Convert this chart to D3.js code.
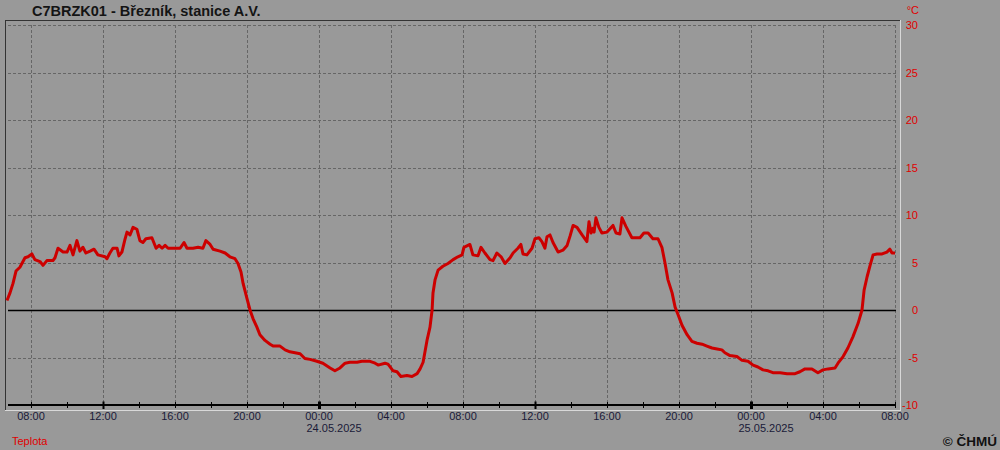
<!DOCTYPE html>
<html><head><meta charset="utf-8">
<script src="https://cdn.jsdelivr.net/npm/d3@7"></script>
<style>
html,body{margin:0;padding:0;background:#999999;}
svg{display:block;}
text{font-family:"Liberation Sans",Arial,sans-serif;}
</style></head>
<body>
<svg id="chart" width="1000" height="450"></svg>
<script>
const title = "C7BRZK01 - Březník, stanice A.V.";
const seriesName = "Teplota";
const unit = "°C";
const copyright = "© ČHMÚ";
const yTicks = [-10, -5, 0, 5, 10, 15, 20, 25, 30];
const dateLabels = ["24.05.2025", "25.05.2025"];

// time stamps (local time) and temperature values [°C]
const times = [
"2025-05-23T06:40","2025-05-23T06:50","2025-05-23T07:00","2025-05-23T07:10","2025-05-23T07:23","2025-05-23T07:40","2025-05-23T07:50","2025-05-23T08:03","2025-05-23T08:13","2025-05-23T08:30",
"2025-05-23T08:40","2025-05-23T08:53","2025-05-23T09:13","2025-05-23T09:20","2025-05-23T09:30","2025-05-23T09:47","2025-05-23T10:00","2025-05-23T10:10","2025-05-23T10:20","2025-05-23T10:33",
"2025-05-23T10:43","2025-05-23T10:53","2025-05-23T11:03","2025-05-23T11:17","2025-05-23T11:30","2025-05-23T11:43","2025-05-23T12:07","2025-05-23T12:13","2025-05-23T12:23","2025-05-23T12:33",
"2025-05-23T12:47","2025-05-23T12:53","2025-05-23T13:03","2025-05-23T13:13","2025-05-23T13:20","2025-05-23T13:30","2025-05-23T13:40","2025-05-23T13:53","2025-05-23T14:03","2025-05-23T14:13",
"2025-05-23T14:23","2025-05-23T14:43","2025-05-23T14:57","2025-05-23T15:07","2025-05-23T15:17","2025-05-23T15:27","2025-05-23T15:37","2025-05-23T15:53","2025-05-23T16:17","2025-05-23T16:30",
"2025-05-23T16:40","2025-05-23T17:00","2025-05-23T17:17","2025-05-23T17:33","2025-05-23T17:43","2025-05-23T17:57","2025-05-23T18:07","2025-05-23T18:30","2025-05-23T18:47","2025-05-23T19:03",
"2025-05-23T19:20","2025-05-23T19:30","2025-05-23T19:40","2025-05-23T19:47","2025-05-23T20:00","2025-05-23T20:10","2025-05-23T20:20","2025-05-23T20:33","2025-05-23T20:43","2025-05-23T21:00",
"2025-05-23T21:17","2025-05-23T21:27","2025-05-23T21:50","2025-05-23T22:07","2025-05-23T22:23","2025-05-23T22:40","2025-05-23T22:57","2025-05-23T23:13","2025-05-23T23:30","2025-05-23T23:53",
"2025-05-24T00:13","2025-05-24T00:37","2025-05-24T00:53","2025-05-24T01:10","2025-05-24T01:27","2025-05-24T01:43","2025-05-24T02:07","2025-05-24T02:23","2025-05-24T02:50","2025-05-24T03:07",
"2025-05-24T03:17","2025-05-24T03:40","2025-05-24T03:50","2025-05-24T04:07","2025-05-24T04:20","2025-05-24T04:33","2025-05-24T04:53","2025-05-24T05:10","2025-05-24T05:27","2025-05-24T05:37",
"2025-05-24T05:47","2025-05-24T06:00","2025-05-24T06:10","2025-05-24T06:17","2025-05-24T06:20","2025-05-24T06:27","2025-05-24T06:37","2025-05-24T06:53","2025-05-24T07:10","2025-05-24T07:27",
"2025-05-24T07:43","2025-05-24T07:57","2025-05-24T08:03","2025-05-24T08:23","2025-05-24T08:33","2025-05-24T08:50","2025-05-24T09:00","2025-05-24T09:13","2025-05-24T09:30","2025-05-24T09:40",
"2025-05-24T09:53","2025-05-24T10:07","2025-05-24T10:20","2025-05-24T10:37","2025-05-24T10:47","2025-05-24T11:03","2025-05-24T11:13","2025-05-24T11:20","2025-05-24T11:33","2025-05-24T11:50",
"2025-05-24T12:00","2025-05-24T12:13","2025-05-24T12:23","2025-05-24T12:33","2025-05-24T12:40","2025-05-24T12:50","2025-05-24T13:00","2025-05-24T13:17","2025-05-24T13:33","2025-05-24T13:47",
"2025-05-24T13:57","2025-05-24T14:07","2025-05-24T14:20","2025-05-24T14:37","2025-05-24T14:53","2025-05-24T15:00","2025-05-24T15:07","2025-05-24T15:13","2025-05-24T15:17","2025-05-24T15:23",
"2025-05-24T15:33","2025-05-24T15:43","2025-05-24T16:00","2025-05-24T16:20","2025-05-24T16:30","2025-05-24T16:43","2025-05-24T16:50","2025-05-24T17:03","2025-05-24T17:23","2025-05-24T17:50",
"2025-05-24T18:03","2025-05-24T18:17","2025-05-24T18:33","2025-05-24T18:50","2025-05-24T19:03","2025-05-24T19:13","2025-05-24T19:23","2025-05-24T19:37","2025-05-24T19:47","2025-05-24T19:57",
"2025-05-24T20:10","2025-05-24T20:27","2025-05-24T20:43","2025-05-24T21:00","2025-05-24T21:17","2025-05-24T21:33","2025-05-24T21:50","2025-05-24T22:07","2025-05-24T22:23","2025-05-24T22:33",
"2025-05-24T22:50","2025-05-24T23:13","2025-05-24T23:30","2025-05-24T23:50","2025-05-25T00:07","2025-05-25T00:23","2025-05-25T00:40","2025-05-25T00:57","2025-05-25T01:13","2025-05-25T01:37",
"2025-05-25T02:00","2025-05-25T02:27","2025-05-25T02:43","2025-05-25T03:00","2025-05-25T03:23","2025-05-25T03:43","2025-05-25T04:00","2025-05-25T04:17","2025-05-25T04:40","2025-05-25T04:50",
"2025-05-25T05:07","2025-05-25T05:23","2025-05-25T05:40","2025-05-25T05:57","2025-05-25T06:10","2025-05-25T06:17","2025-05-25T06:27","2025-05-25T06:37","2025-05-25T06:47","2025-05-25T07:00",
"2025-05-25T07:17","2025-05-25T07:33","2025-05-25T07:43","2025-05-25T07:50","2025-05-25T08:00"
];
const temps = [
1.0,1.8,2.8,4.1,4.5,5.5,5.6,5.9,5.3,5.1,
4.7,5.2,5.2,5.5,6.5,6.1,6.1,6.8,5.8,7.3,
6.2,6.6,6.0,6.2,6.4,5.8,5.6,5.4,6.0,6.5,
6.5,5.7,6.1,7.4,8.2,7.9,8.7,8.5,7.3,7.1,
7.5,7.6,6.5,6.8,6.5,6.8,6.5,6.5,6.5,7.1,
6.5,6.5,6.6,6.5,7.3,6.9,6.4,6.2,6.0,5.6,
5.4,4.9,4.0,2.8,1.2,0.0,-0.9,-1.8,-2.6,-3.2,
-3.6,-3.8,-3.8,-4.2,-4.4,-4.5,-4.6,-5.1,-5.2,-5.4,
-5.6,-6.1,-6.4,-6.1,-5.6,-5.5,-5.5,-5.4,-5.4,-5.6,
-5.8,-5.6,-5.7,-6.4,-6.5,-7.0,-6.9,-7.0,-6.7,-6.2,
-5.5,-3.2,-1.8,0.0,1.8,3.2,4.2,4.6,4.9,5.3,
5.6,5.8,6.6,6.9,5.8,5.7,6.6,6.0,5.3,5.2,
6.0,5.6,4.9,5.5,6.0,6.5,6.9,5.9,5.8,6.5,
7.5,7.6,7.2,6.5,7.7,7.9,7.1,6.1,6.3,6.8,
7.8,8.9,8.7,7.9,7.2,9.3,8.1,8.6,8.2,9.7,
8.7,8.1,8.2,8.9,8.1,8.0,9.7,8.8,7.6,7.6,
8.1,8.1,7.5,7.5,6.6,5.0,3.2,1.8,0.3,-0.5,
-1.6,-2.6,-3.3,-3.5,-3.6,-3.8,-4.0,-4.1,-4.2,-4.5,
-4.8,-4.9,-5.3,-5.4,-5.8,-6.0,-6.3,-6.4,-6.6,-6.6,
-6.7,-6.7,-6.5,-6.2,-6.2,-6.6,-6.3,-6.2,-6.1,-5.6,
-4.9,-4.0,-2.8,-1.4,0.0,2.1,3.5,4.7,5.8,5.9,
5.9,6.1,6.4,6.0,6.0
];

const parse = d3.timeParse("%Y-%m-%dT%H:%M");
const data = times.map((t, i) => ({t: parse(t), v: temps[i]}));

const svg = d3.select("#chart");
const x = d3.scaleTime()
  .domain([parse("2025-05-23T08:00"), parse("2025-05-25T08:00")])
  .range([31, 895]);
const y = d3.scaleLinear().domain([-10, 30]).range([405, 25]);
const xLeft = 8, xRight = 896;

// frame (sunken look)
svg.append("line").attr("x1",5.5).attr("x2",5.5).attr("y1",20).attr("y2",410).attr("stroke","#333").attr("stroke-width",1);
svg.append("line").attr("x1",5).attr("x2",900).attr("y1",20.5).attr("y2",20.5).attr("stroke","#333").attr("stroke-width",1);
svg.append("line").attr("x1",900.5).attr("x2",900.5).attr("y1",20).attr("y2",411).attr("stroke","#d8d8d8").attr("stroke-width",1);
svg.append("line").attr("x1",5).attr("x2",901).attr("y1",410.5).attr("y2",410.5).attr("stroke","#d8d8d8").attr("stroke-width",1);

// horizontal grid
const gridG = svg.append("g");
gridG.selectAll("line.h").data(yTicks.filter(v => v !== 0 && v !== -10)).enter()
  .append("line").attr("class","h")
  .attr("x1", xLeft).attr("x2", xRight)
  .attr("y1", d => Math.round(y(d)) + 0.5).attr("y2", d => Math.round(y(d)) + 0.5)
  .attr("stroke","#666").attr("stroke-dasharray","3,2");

// vertical grid every 4h
const grid4 = d3.timeHour.every(4).range(x.domain()[0], d3.timeMinute.offset(x.domain()[1], 1));
gridG.selectAll("line.v").data(grid4).enter()
  .append("line").attr("class","v")
  .attr("x1", d => Math.round(x(d)) + 0.5).attr("x2", d => Math.round(x(d)) + 0.5)
  .attr("y1", 25).attr("y2", 405)
  .attr("stroke","#666").attr("stroke-dasharray","3,2");

// zero line
svg.append("line").attr("x1", xLeft).attr("x2", xRight)
  .attr("y1", y(0) + 0.5).attr("y2", y(0) + 0.5).attr("stroke","#000").attr("stroke-width",1.5);

// x axis
const ticks2 = d3.timeHour.every(2).range(x.domain()[0], d3.timeMinute.offset(x.domain()[1], 1));
const xAxis = d3.axisBottom(x).tickValues(ticks2).tickSize(0).tickFormat("");
const ax = svg.append("g").attr("transform","translate(0,405)").call(xAxis);
ax.select(".domain").remove();
svg.append("line").attr("x1", xLeft).attr("x2", xRight).attr("y1",405).attr("y2",405).attr("stroke","#000").attr("stroke-width",2);
svg.append("g").selectAll("line").data(ticks2).enter().append("line")
  .attr("x1", d => Math.round(x(d)) + 0.5).attr("x2", d => Math.round(x(d)) + 0.5)
  .attr("y1", d => (d.getHours() % 12 === 0) ? 401.5 : 402)
  .attr("y2", d => (d.getHours() % 12 === 0) ? 409 : 408)
  .attr("stroke","#000")
  .attr("stroke-width", d => (d.getHours() % 12 === 0) ? (d.getHours() === 0 ? 3 : 2) : 1);

// x labels
const fmt = d3.timeFormat("%H:%M");
svg.append("g").selectAll("text").data(grid4).enter().append("text")
  .attr("x", d => x(d)).attr("y", 420)
  .attr("text-anchor","middle").attr("font-size","11px").attr("fill","#1a1a38")
  .text(d => fmt(d));
const midnights = grid4.filter(d => d.getHours() === 0);
svg.append("g").selectAll("text").data(midnights).enter().append("text")
  .attr("x", d => x(d) - 12.5).attr("y", 432)
  .attr("text-anchor","start").attr("font-size","11px").attr("fill","#1a1a38")
  .text((d, i) => dateLabels[i]);

// y labels (right)
svg.append("g").selectAll("text").data(yTicks).enter().append("text")
  .attr("x", 918).attr("y", d => y(d) + 4)
  .attr("text-anchor","end").attr("font-size","11px").attr("fill","#e00000")
  .text(d => d);
svg.append("text").attr("x",919).attr("y",14).attr("text-anchor","end")
  .attr("font-size","11px").attr("fill","#e00000").text(unit);

// line
const line = d3.line().x(d => x(d.t)).y(d => y(d.v));
svg.append("path").datum(data).attr("d", line)
  .attr("fill","none").attr("stroke","#cc0000").attr("stroke-width",3)
  .attr("stroke-linejoin","round");

// texts
svg.append("text").attr("x",32).attr("y",16).attr("font-size","14.5px").attr("font-weight","bold")
  .attr("fill","#141414").text(title);
svg.append("text").attr("x",12).attr("y",445).attr("font-size","11px").attr("fill","#e00000").text(seriesName);
svg.append("text").attr("x",997).attr("y",446).attr("text-anchor","end").attr("font-size","13.5px")
  .attr("font-weight","bold").attr("fill","#111").text(copyright);
</script>
</body></html>
